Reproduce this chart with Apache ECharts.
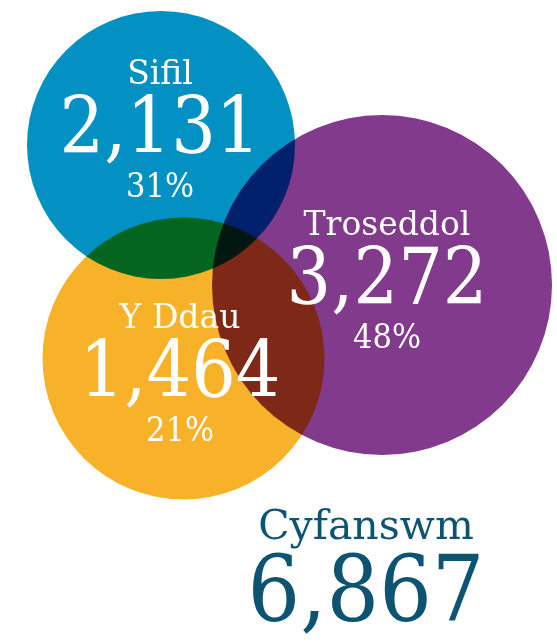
<!DOCTYPE html>
<html lang="en">
<head>
<meta charset="UTF-8">
<title>Cyfanswm</title>
<script src="https://cdn.jsdelivr.net/npm/echarts@6/dist/echarts.min.js"></script>
<style>
    html, body { margin: 0; padding: 0; background: #fff; }
    #main { width: 557px; height: 642px; }
</style>
</head>
<body>
<div id="main"></div>
<script>
// data
var setNames = ['Sifil', 'Troseddol', 'Y Ddau'];
var caseCounts = [2131, 3272, 1464];
var totalName = 'Cyfanswm';
var totalCount = 6867;

// layout (pixel plane 557 x 642, y downwards)
var circleX = [161, 382, 183.5];
var circleY = [145, 285, 358.5];
var circleR = [134, 170, 141];
var labelX = [160, 387, 180];
var labelY = [131, 282, 375];
var totalPos = [366, 571];

var setColors = ['#0391c4', '#823a8c', '#f8b229'];
var serifFont = "'DejaVu Serif'";
var numFont = "'DejaVu Serif Condensed', 'DejaVu Serif'";

function fmt(n) {
    return n.toLocaleString('en-US');
}

var circleData = [];
var labelData = [];
for (var i = 0; i < setNames.length; i++) {
    circleData.push({
        value: [circleX[i], circleY[i], circleR[i]],
        itemStyle: { color: setColors[i] }
    });
    labelData.push({
        value: [labelX[i], labelY[i]],
        label: {
            formatter: '{name|' + setNames[i] + '}\n{num|' + fmt(caseCounts[i]) + '}\n{pct|' +
                Math.round(caseCounts[i] / totalCount * 100) + '%}'
        }
    });
}
labelData.push({
    value: totalPos,
    label: {
        formatter: '{tname|' + totalName + '}\n{tnum|' + fmt(totalCount) + '}'
    }
});

var myChart = echarts.init(document.getElementById('main'));
var option = {
    backgroundColor: '#ffffff',
    animation: false,
    grid: { left: 0, right: 0, top: 0, bottom: 0 },
    xAxis: { type: 'value', min: 0, max: 557, show: false },
    yAxis: { type: 'value', min: 0, max: 642, inverse: true, show: false },
    series: [
        {
            type: 'scatter',
            silent: true,
            blendMode: 'multiply',
            symbol: 'circle',
            symbolSize: function (v) { return v[2] * 2; },
            itemStyle: { opacity: 1 },
            data: circleData,
            emphasis: { disabled: true }
        },
        {
            type: 'scatter',
            silent: true,
            symbolSize: 1,
            itemStyle: { color: 'rgba(0,0,0,0)', opacity: 1 },
            data: labelData,
            emphasis: { disabled: true },
            label: {
                show: true,
                position: 'inside',
                align: 'center',
                color: '#fff',
                opacity: 1,
                rich: {
                    name: { fontFamily: serifFont, fontSize: 33, lineHeight: 39, color: '#fff' },
                    num: { fontFamily: numFont, fontSize: 78, lineHeight: 76, color: '#fff' },
                    pct: { fontFamily: numFont, fontSize: 34, lineHeight: 36, color: '#fff' },
                    tname: { fontFamily: serifFont, fontSize: 41, lineHeight: 52, color: '#0d5473' },
                    tnum: { fontFamily: numFont, fontSize: 92, lineHeight: 86, color: '#0d5473' }
                }
            }
        }
    ]
};
myChart.setOption(option);
</script>
</body>
</html>
